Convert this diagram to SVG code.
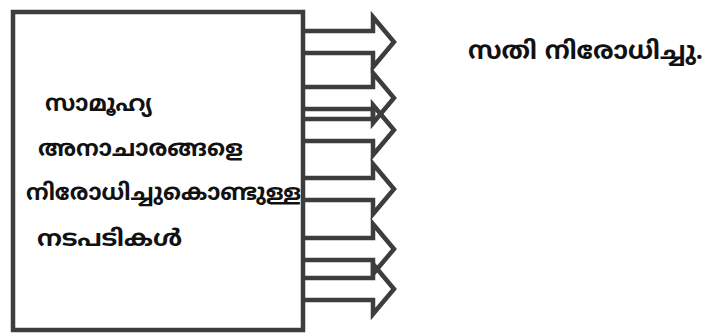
<svg xmlns="http://www.w3.org/2000/svg" width="709" height="336" viewBox="0 0 709 336">
<style>
.box{fill:none;stroke:#3d3d3d;stroke-width:4.5}
.arr{fill:none;stroke:#3d3d3d;stroke-width:4.5;stroke-linejoin:miter}
.t{font-family:"Noto Sans Malayalam","Noto Sans","DejaVu Sans",sans-serif;font-weight:bold;font-size:23px;fill:#111}
.l{font-size:25px}
</style>
<rect width="709" height="336" fill="#fff"/>
<g id="box">
<rect class="box" x="13" y="12" width="290" height="318"/>
<text class="t" x="45" y="111" textLength="107" lengthAdjust="spacingAndGlyphs">സാമൂഹ്യ</text>
<text class="t" x="38" y="156" textLength="205" lengthAdjust="spacingAndGlyphs">അനാചാരങ്ങളെ</text>
<text class="t" x="26" y="200" textLength="275" lengthAdjust="spacingAndGlyphs">നിരോധിച്ചുകൊണ്ടുള്ള</text>
<text class="t" x="37" y="246" textLength="145" lengthAdjust="spacingAndGlyphs">നടപടികൾ</text>
</g>
<g id="connectors">
<path class="arr" d="M303 31H373V17L394 42L373 67V53H303"/>
<path class="arr" d="M303 87H373V73L394 98L373 123V109H303"/>
<path class="arr" d="M303 119H373V105L394 130L373 155V141H303"/>
<path class="arr" d="M303 178H373V164L394 189L373 214V200H303"/>
<path class="arr" d="M303 238H373V224L394 249L373 274V260H303"/>
<path class="arr" d="M303 278H373V264L394 289L373 314V300H303"/>
</g>
<g id="label">
<text class="t l" x="468" y="59" textLength="235" lengthAdjust="spacingAndGlyphs">സതി നിരോധിച്ചു.</text>
</g>
</svg>
